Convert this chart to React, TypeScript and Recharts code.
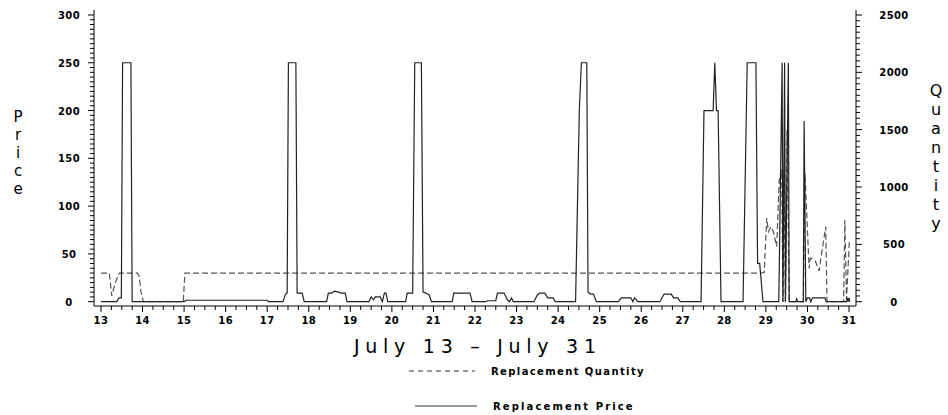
import { LineChart, Line, XAxis, YAxis, Legend } from 'recharts';

document.body.style.margin = '0';

// axis ticks
const dayTicks = [13, 14, 15, 16, 17, 18, 19, 20, 21, 22, 23, 24, 25, 26, 27, 28, 29, 30, 31];
const priceTicks = [0, 50, 100, 150, 200, 250, 300];
const qtyTicks = [0, 500, 1000, 1500, 2000, 2500];

const legendLabels = ['Replacement Quantity', 'Replacement Price'];

// Replacement Price (left axis), time in days of July
const priceTime = [
  13.0, 13.38, 13.43, 13.49, 13.52, 13.72, 13.75, 15.0, 15.05, 16.0, 17.0, 17.03,
  17.38, 17.44, 17.48, 17.51, 17.69, 17.72, 17.84, 17.89,
  18.43, 18.47, 18.55, 18.62, 18.72, 18.78, 18.88, 18.92,
  19.45, 19.5, 19.56, 19.6, 19.72, 19.77, 19.82, 19.86, 19.9,
  20.33, 20.37, 20.5, 20.55, 20.71, 20.75, 20.82, 20.9, 20.95,
  21.45, 21.49, 21.88, 21.93,
  22.25, 22.3, 22.5, 22.54, 22.7, 22.78, 22.83, 22.88, 22.92,
  23.42, 23.5, 23.56, 23.68, 23.75, 23.88, 23.93,
  24.42, 24.51, 24.56, 24.69, 24.72, 24.78, 24.85, 24.92,
  25.45, 25.52, 25.75, 25.8, 25.84, 25.92,
  26.45, 26.55, 26.72, 26.78, 26.88, 26.94,
  27.44, 27.51, 27.73, 27.77, 27.81, 27.85, 27.92,
  28.45, 28.55, 28.76, 28.8, 28.85, 28.93,
  29.31, 29.39, 29.41, 29.45, 29.47, 29.54, 29.56,
  29.72, 29.74, 29.76, 29.9, 29.92, 29.96,
  30.0, 30.05, 30.08, 30.12, 30.42, 30.45, 30.94, 30.96, 30.98, 31.0, 31.02,
];
const priceValue = [
  0, 0, 4, 4, 250, 250, 0, 0, 1.5, 1.5, 1.5, 0,
  0, 8, 9, 250, 250, 9, 9, 0,
  0, 9, 9, 11, 10, 9, 9, 0,
  0, 5, 2, 5, 5, 0, 9, 9, 0,
  0, 9, 9, 250, 250, 10, 9, 7, 0,
  0, 9, 9, 0,
  0, 1, 1, 9, 9, 2, 0, 4, 0,
  0, 7, 9, 9, 4, 4, 0,
  0, 200, 250, 250, 10, 8, 8, 0,
  0, 4, 4, 0, 4, 0,
  0, 8, 8, 4, 4, 0,
  0, 200, 200, 250, 200, 200, 0,
  0, 250, 250, 40, 40, 0,
  0, 250, 0, 250, 0, 250, 0,
  0, 3, 0, 0, 189, 0,
  4, 4, 0, 4, 4, 0, 0, 4, 0, 4, 0,
];

// Replacement Quantity (right axis)
const qtyTime = [
  13.0, 13.2, 13.26, 13.34, 13.44, 13.88, 13.92, 13.96, 14.02, 14.98, 15.02,
  28.88, 28.96, 29.02, 29.06, 29.12, 29.18, 29.26, 29.32, 29.38, 29.41, 29.44, 29.47,
  29.51, 29.56, 29.9, 29.94, 30.04, 30.07, 30.18, 30.28, 30.34, 30.44, 30.47,
  30.87, 30.9, 30.94, 31.01,
];
const qtyValue = [
  250, 250, 50, 160, 250, 250, 220, 90, 0, 0, 250,
  250, 255, 730, 610, 655, 610, 480, 1060, 1150, 0, 1150, 0,
  1500, 0, 0, 1120, 290, 380, 364, 268, 422, 654, 0,
  0, 712, 20, 540,
];

const priceData = priceTime.map((t, i) => ({ t, price: priceValue[i] }));
const qtyData = qtyTime.map((t, i) => ({ t, qty: qtyValue[i] }));

// major ticks plus the minor ones between them
function withMinor(major: number[], step: number) {
  const out: number[] = [];
  for (let i = 0; i < major.length - 1; i++) {
    for (let v = major[i]; v < major[i + 1] - step / 2; v += step) out.push(+v.toFixed(4));
  }
  out.push(major[major.length - 1]);
  return out;
}

const tickFont = {
  fontFamily: '"DejaVu Sans", sans-serif',
  fontWeight: 700,
  fontSize: 10,
  fill: '#000',
  letterSpacing: 0.4,
};
const titleFont = {
  fontFamily: '"DejaVu Sans", sans-serif',
  fontWeight: 400,
  fill: '#000',
};

function XTick({ x, y, payload }: any) {
  const major = dayTicks.includes(payload.value);
  return (
    <g>
      <line x1={x} x2={x} y1={y} y2={y + (major ? 6 : 4)} stroke="#000" />
      {major && (
        <text x={x} y={y + 18} textAnchor="middle" {...tickFont}>
          {payload.value}
        </text>
      )}
    </g>
  );
}

function PriceTick({ x, y, payload }: any) {
  const major = priceTicks.includes(payload.value);
  return (
    <g>
      <line x1={x - (major ? 6 : 4)} x2={x} y1={y} y2={y} stroke="#000" />
      {major && (
        <text x={x - 25} y={y + 4} textAnchor="middle" {...tickFont}>
          {payload.value}
        </text>
      )}
    </g>
  );
}

function QtyTick({ x, y, payload }: any) {
  const major = qtyTicks.includes(payload.value);
  return (
    <g>
      <line x1={x} x2={x + (major ? 6 : 4)} y1={y} y2={y} stroke="#000" />
      {major && (
        <text x={x + 38} y={y + 4} textAnchor="middle" {...tickFont}>
          {payload.value}
        </text>
      )}
    </g>
  );
}

// axis title written one letter under the other
function StackedTitle({ letters, atX, startY, gap, size }: any) {
  return (
    <text textAnchor="middle" fontSize={size} {...titleFont}>
      {String(letters)
        .split('')
        .map((ch: string, i: number) => (
          <tspan key={i} x={atX} y={startY + i * gap}>
            {ch}
          </tspan>
        ))}
    </text>
  );
}

function XTitle({ viewBox }: any) {
  const cx = viewBox && viewBox.width ? viewBox.x + viewBox.width / 2 : 475;
  return (
    <text x={cx} y={353} textAnchor="middle" fontSize={19} textLength={242} lengthAdjust="spacing" {...titleFont}>
      July 13 – July 31
    </text>
  );
}

function LegendBox() {
  return (
    <svg width={948} height={60}>
      <line x1={409} x2={475} y1={16} y2={16} stroke="#333" strokeDasharray="5 4" />
      <text x={491} y={20} textLength={153} lengthAdjust="spacing" {...tickFont}>
        {legendLabels[0]}
      </text>
      <line x1={415} x2={477} y1={51} y2={51} stroke="#333" />
      <text x={493} y={55} textLength={140} lengthAdjust="spacing" {...tickFont}>
        {legendLabels[1]}
      </text>
    </svg>
  );
}

export default function App() {
  return (
    <LineChart width={948} height={415} margin={{ top: 10, right: 0, bottom: 0, left: 0 }}>
      <XAxis
        dataKey="t"
        type="number"
        domain={[12.832, 31.168]}
        allowDataOverflow
        ticks={withMinor(dayTicks, 0.25)}
        interval={0}
        height={109}
        tickLine={false}
        tickSize={0}
        tickMargin={0}
        tick={<XTick />}
        axisLine={{ stroke: '#000' }}
        label={<XTitle />}
      />
      <YAxis
        yAxisId="price"
        type="number"
        domain={[-4.5, 305.2]}
        allowDataOverflow
        ticks={withMinor(priceTicks, 5)}
        interval={0}
        width={94}
        tickLine={false}
        tickSize={0}
        tickMargin={0}
        tick={<PriceTick />}
        axisLine={{ stroke: '#000' }}
        label={<StackedTitle letters="Price" atX={18} startY={122} gap={18} size={15} />}
      />
      <YAxis
        yAxisId="qty"
        orientation="right"
        type="number"
        domain={[-37.5, 2543.6]}
        allowDataOverflow
        ticks={withMinor(qtyTicks, 50)}
        interval={0}
        width={92}
        tickLine={false}
        tickSize={0}
        tickMargin={0}
        tick={<QtyTick />}
        axisLine={{ stroke: '#000' }}
        label={<StackedTitle letters="Quantity" atX={936} startY={96} gap={19} size={16} />}
      />
      <Legend
        layout="vertical"
        align="center"
        verticalAlign="middle"
        wrapperStyle={{ left: 0, top: 355, width: 948, height: 60 }}
        content={<LegendBox />}
      />
      <Line
        yAxisId="qty"
        data={qtyData}
        dataKey="qty"
        name={legendLabels[0]}
        type="linear"
        stroke="#555"
        strokeWidth={1.2}
        strokeDasharray="6 3"
        dot={false}
        isAnimationActive={false}
      />
      <Line
        yAxisId="price"
        data={priceData}
        dataKey="price"
        name={legendLabels[1]}
        type="linear"
        stroke="#222"
        strokeWidth={1.2}
        dot={false}
        isAnimationActive={false}
      />
    </LineChart>
  );
}
